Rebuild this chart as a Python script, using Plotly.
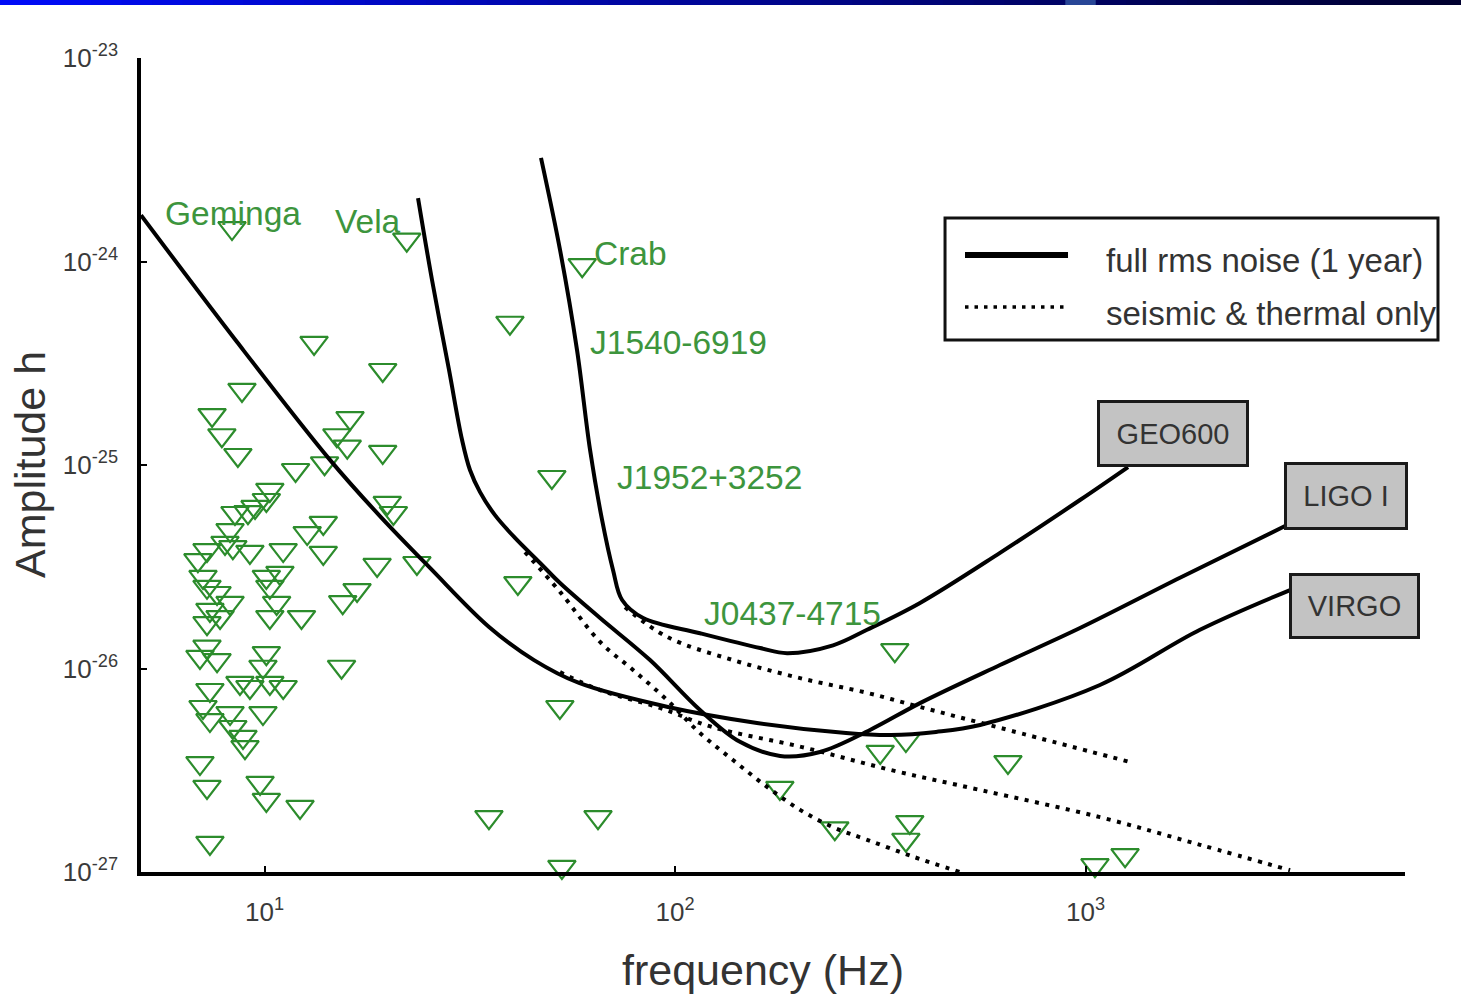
import numpy as np
import plotly.graph_objects as go

# ---------------------------------------------------------------------------
# Pulsar upper limits on the gravitational-wave amplitude (frequency in Hz)
# ---------------------------------------------------------------------------
pulsar_freq = [
    8.33, 22.2, 59.4, 39.6, 13.2, 19.4, 8.81, 7.45, 7.87, 8.61,
    16.15, 15.0, 15.9, 19.4, 11.9, 14.0, 50.1, 10.3, 10.1, 9.48,
    9.11, 8.47, 8.24, 8.01, 8.37, 7.24, 6.88, 9.21, 11.1, 12.7,
    13.9, 13.9, 19.9, 20.6, 18.8, 23.5, 10.1, 10.9, 16.8, 7.08,
    7.24, 7.66, 8.24, 7.36, 7.79, 7.24, 10.3, 10.7, 10.3, 12.3,
    15.5, 7.24, 6.96, 7.66, 10.1, 9.91, 15.4, 8.71, 9.21, 10.3,
    11.1, 7.36, 7.08, 7.36, 8.24, 8.37, 8.86, 8.96, 9.91, 6.96,
    7.24, 9.75, 10.1, 12.2, 7.36, 52.4, 35.2, 64.9, 53.0, 180.0,
    245.0, 373.0, 365.0, 316.0, 365.0, 343.0, 647.0, 1054.0, 1248.0, 41.4,
]
pulsar_h = [
    1.46e-24, 1.28e-24, 9.6e-25, 5.0e-25, 3.98e-25, 2.93e-25, 2.34e-25, 1.76e-25, 1.40e-25, 1.12e-25,
    1.70e-25, 1.40e-25, 1.23e-25, 1.16e-25, 9.45e-26, 1.02e-25, 8.73e-26, 7.54e-26, 6.73e-26, 6.22e-26,
    5.87e-26, 5.81e-26, 4.79e-26, 4.14e-26, 3.95e-26, 3.82e-26, 3.41e-26, 3.74e-26, 3.82e-26, 4.63e-26,
    5.19e-26, 3.70e-26, 6.51e-26, 5.81e-26, 3.23e-26, 3.30e-26, 2.82e-26, 2.95e-26, 2.43e-26, 2.82e-26,
    2.52e-26, 2.35e-26, 2.10e-26, 1.94e-26, 1.79e-26, 1.67e-26, 2.52e-26, 2.10e-26, 1.79e-26, 1.79e-26,
    2.12e-26, 1.28e-26, 1.14e-26, 1.10e-26, 1.19e-26, 1.02e-26, 1.02e-26, 8.49e-27, 8.11e-27, 8.49e-27,
    8.11e-27, 7.84e-27, 6.47e-27, 5.58e-27, 6.04e-27, 5.16e-27, 4.61e-27, 4.11e-27, 6.04e-27, 3.43e-27,
    2.62e-27, 2.74e-27, 2.26e-27, 2.09e-27, 1.39e-27, 6.47e-27, 1.86e-27, 1.86e-27, 1.06e-27, 2.59e-27,
    1.64e-27, 1.76e-27, 1.44e-27, 3.89e-27, 4.45e-27, 1.23e-26, 3.47e-27, 1.08e-27, 1.21e-27, 2.63e-26,
]

# ---------------------------------------------------------------------------
# Detector sensitivity: full rms noise (1 year)
# ---------------------------------------------------------------------------
geo_freq = [47.14, 52.45, 57.7, 62.06, 66.4, 70.6, 74.3, 83.6, 115.0, 161.1,
            187.4, 242.6, 293.6, 395.1, 618.8, 969.2, 1269.0]
geo_h = [3.23e-24, 1.14e-24, 3.67e-25, 1.19e-25, 5.37e-26, 3.05e-26, 2.17e-26, 1.77e-26, 1.49e-26, 1.26e-26,
         1.19e-26, 1.30e-26, 1.55e-26, 2.10e-26, 3.70e-26, 6.73e-26, 9.77e-26]

ligo_freq = [23.65, 25.58, 28.14, 30.27, 31.65, 33.49, 36.42, 40.75, 46.9, 52.45, 65.67, 86.9, 115.0,
             143.9, 180.2, 225.5, 298.5, 395.1, 618.8, 969.2, 1698.0, 3096.0]
ligo_h = [2.05e-24, 8.11e-25, 2.93e-25, 1.33e-25, 9.45e-26, 7.36e-26, 5.67e-26, 4.38e-26, 3.30e-26,
          2.63e-26, 1.77e-26, 1.10e-26, 6.25e-27,
          4.36e-27, 3.72e-27, 3.89e-27, 4.99e-27, 6.76e-27, 1.04e-26, 1.58e-26, 2.79e-26, 5.07e-26]

virgo_freq = [5.0, 8.57, 14.43, 19.10, 25.29, 35.22, 45.33, 58.34, 96.1,
              158.3, 260.9, 335.7, 432.3, 553.4, 1084.0, 1900.0, 3149.0]
virgo_h = [1.69e-24, 4.02e-25, 1.06e-25, 5.61e-26, 3.12e-26, 1.60e-26, 1.10e-26, 8.49e-27, 6.47e-27,
           5.40e-27, 4.82e-27, 4.71e-27, 4.88e-27, 5.28e-27, 8.30e-27, 1.55e-26, 2.43e-26]

# ---------------------------------------------------------------------------
# Detector sensitivity: seismic & thermal noise only
# ---------------------------------------------------------------------------
geo_st_freq = [75.5, 95.6, 138.4, 201.6, 293.6, 395.1, 618.8, 1283.0]
geo_st_h = [2.00e-26, 1.43e-26, 1.10e-26, 8.97e-27, 7.59e-27, 6.47e-27, 5.11e-27, 3.47e-27]

ligo_st_freq = [43.1, 52.45, 65.67, 79.0, 95.6, 115.0, 138.4, 167.5, 201.6, 242.6, 293.6, 379.9, 494.6]
ligo_st_h = [3.73e-26, 2.38e-26, 1.35e-26, 9.84e-27, 7.00e-27, 4.82e-27, 3.55e-27, 2.62e-27, 2.02e-27,
             1.66e-27, 1.44e-27, 1.19e-27, 1.00e-27]

virgo_st_freq = [52.45, 65.67, 91.9, 123.0, 203.9, 335.7, 553.4, 1084.0, 1900.0, 3149.0]
virgo_st_h = [9.6e-27, 7.83e-27, 6.40e-27, 5.16e-27, 4.11e-27, 3.17e-27, 2.53e-27, 1.86e-27, 1.36e-27, 1.02e-27]

# Tick labels
x_tick_vals = [10, 100, 1000]
x_tick_text = ["10<sup>1</sup>", "10<sup>2</sup>", "10<sup>3</sup>"]
y_tick_vals = [1e-27, 1e-26, 1e-25, 1e-24, 1e-23]
y_tick_text = ["10<sup>-27</sup>", "10<sup>-26</sup>", "10<sup>-25</sup>", "10<sup>-24</sup>", "10<sup>-23</sup>"]

# Named pulsars: text, anchor frequency, anchor amplitude (left edge of text)
pulsar_labels = [
    ("Geminga", 5.66, 1.73e-24),
    ("Vela", 14.7, 1.58e-24),
    ("Crab", 62.8, 1.10e-24),
    ("J1540-6919", 61.4, 4.02e-25),
    ("J1952+3252", 71.4, 8.73e-26),
    ("J0437-4715", 116.3, 1.87e-26),
]

# Detector name boxes (paper coordinates of the box centre, box size in px)
detector_boxes = [
    ("GEO600", 0.8161, 0.5381, 146, 61),
    ("LIGO I", 0.9537, 0.4625, 118, 62),
    ("VIRGO", 0.9597, 0.3262, 125, 60),
]

FONT = "Liberation Sans, Arial, Helvetica, sans-serif"
GREEN = "#2c8c2c"
LABEL_GREEN = "#3d953d"
TEXT_GRAY = "#333333"

fig = go.Figure()

fig.add_trace(go.Scatter(
    x=pulsar_freq, y=pulsar_h, mode="markers", cliponaxis=False,
    marker=dict(symbol="triangle-down-open", size=24, color=GREEN, line=dict(width=2.2, color=GREEN)),
    showlegend=False, hoverinfo="skip",
))

solid = dict(color="black", width=4, shape="spline", smoothing=1.0)
dotted = dict(color="black", width=4, dash="4px,6.5px", shape="spline", smoothing=1.0)
for fx, hy in [(geo_freq, geo_h), (ligo_freq, ligo_h), (virgo_freq, virgo_h)]:
    fig.add_trace(go.Scatter(x=fx, y=hy, mode="lines", line=solid, showlegend=False, hoverinfo="skip"))
for fx, hy in [(geo_st_freq, geo_st_h), (ligo_st_freq, ligo_st_h), (virgo_st_freq, virgo_st_h)]:
    fig.add_trace(go.Scatter(x=fx, y=hy, mode="lines", line=dotted, showlegend=False, hoverinfo="skip"))

annotations = []
for name, f, h in pulsar_labels:
    annotations.append(dict(
        x=np.log10(f), y=np.log10(h), xref="x", yref="y", text=name, showarrow=False,
        xanchor="left", yanchor="middle", font=dict(family=FONT, size=33.5, color=LABEL_GREEN),
    ))

for name, cx, cy, w, h in detector_boxes:
    annotations.append(dict(
        x=cx, y=cy, xref="paper", yref="paper", text=name, showarrow=False,
        xanchor="center", yanchor="middle", width=w, height=h, borderpad=0,
        bgcolor="#c3c3c3", bordercolor="#1a1a1a", borderwidth=3,
        font=dict(family=FONT, size=29, color=TEXT_GRAY),
    ))

# Legend entries
annotations += [
    dict(x=0.7619, y=0.7518, xref="paper", yref="paper", text="full rms noise (1 year)", showarrow=False,
         xanchor="left", yanchor="middle", font=dict(family=FONT, size=33, color=TEXT_GRAY)),
    dict(x=0.7619, y=0.6867, xref="paper", yref="paper", text="seismic &amp; thermal only", showarrow=False,
         xanchor="left", yanchor="middle", font=dict(family=FONT, size=33, color=TEXT_GRAY)),
]

# Axis titles
annotations += [
    dict(x=-0.0878, y=0.5, xref="paper", yref="paper", text="Amplitude h", textangle=-90, showarrow=False,
         xanchor="center", yanchor="middle", font=dict(family=FONT, size=43, color=TEXT_GRAY)),
    dict(x=0.492, y=-0.1204, xref="paper", yref="paper", text="frequency (Hz)", showarrow=False,
         xanchor="center", yanchor="middle", font=dict(family=FONT, size=43, color=TEXT_GRAY)),
]

shapes = [
    # legend frame and samples
    dict(type="rect", xref="paper", yref="paper", x0=0.6361, x1=1.0261, y0=0.6536, y1=0.8034,
         line=dict(color="#111111", width=3), fillcolor="rgba(255,255,255,0)", layer="above"),
    dict(type="line", xref="paper", yref="paper", x0=0.6519, x1=0.7334, y0=0.7580, y1=0.7580,
         line=dict(color="black", width=6)),
    dict(type="line", xref="paper", yref="paper", x0=0.6519, x1=0.7334, y0=0.6941, y1=0.6941,
         line=dict(color="black", width=3.5, dash="3.5px,6px")),
]

# Slide header strip across the top of the page (blue fading to navy)
n_seg = 48
x_left, x_right = -0.1116, 1.0443
for i in range(n_seg):
    t = (i + 0.5) / n_seg
    g = int(12 * (1 - t))
    b = int(250 - 205 * t)
    r = 0
    if 0.728 < t < 0.752:
        r, g, b = 40, 70, 150
    shapes.append(dict(
        type="rect", xref="paper", yref="paper",
        x0=x_left + (x_right - x_left) * i / n_seg, x1=x_left + (x_right - x_left) * (i + 1) / n_seg + 0.002,
        y0=1.0650, y1=1.08, line=dict(width=0), fillcolor=f"rgb({r},{g},{b})", layer="above",
    ))

fig.update_layout(
    width=1461, height=1004,
    margin=dict(l=141, r=56, t=58, b=132, pad=0),
    paper_bgcolor="white", plot_bgcolor="white",
    showlegend=False,
    annotations=annotations,
    shapes=shapes,
    xaxis=dict(
        type="log", range=[np.log10(5.0), np.log10(6000.0)],
        showgrid=False, zeroline=False, showline=True, linecolor="black", linewidth=3.5,
        ticks="inside", ticklen=6, tickwidth=2, tickcolor="black",
        tickvals=x_tick_vals, ticktext=x_tick_text, ticklabelstandoff=14,
        tickfont=dict(family=FONT, size=26, color="#3a3a3a"), automargin=False,
    ),
    yaxis=dict(
        type="log", range=[-27, -23],
        showgrid=False, zeroline=False, showline=True, linecolor="black", linewidth=3.5,
        ticks="inside", ticklen=6, tickwidth=2, tickcolor="black",
        tickvals=y_tick_vals, ticktext=y_tick_text, ticklabelstandoff=14,
        tickfont=dict(family=FONT, size=26, color="#3a3a3a"), automargin=False,
    ),
)

fig.write_html("out.html")
